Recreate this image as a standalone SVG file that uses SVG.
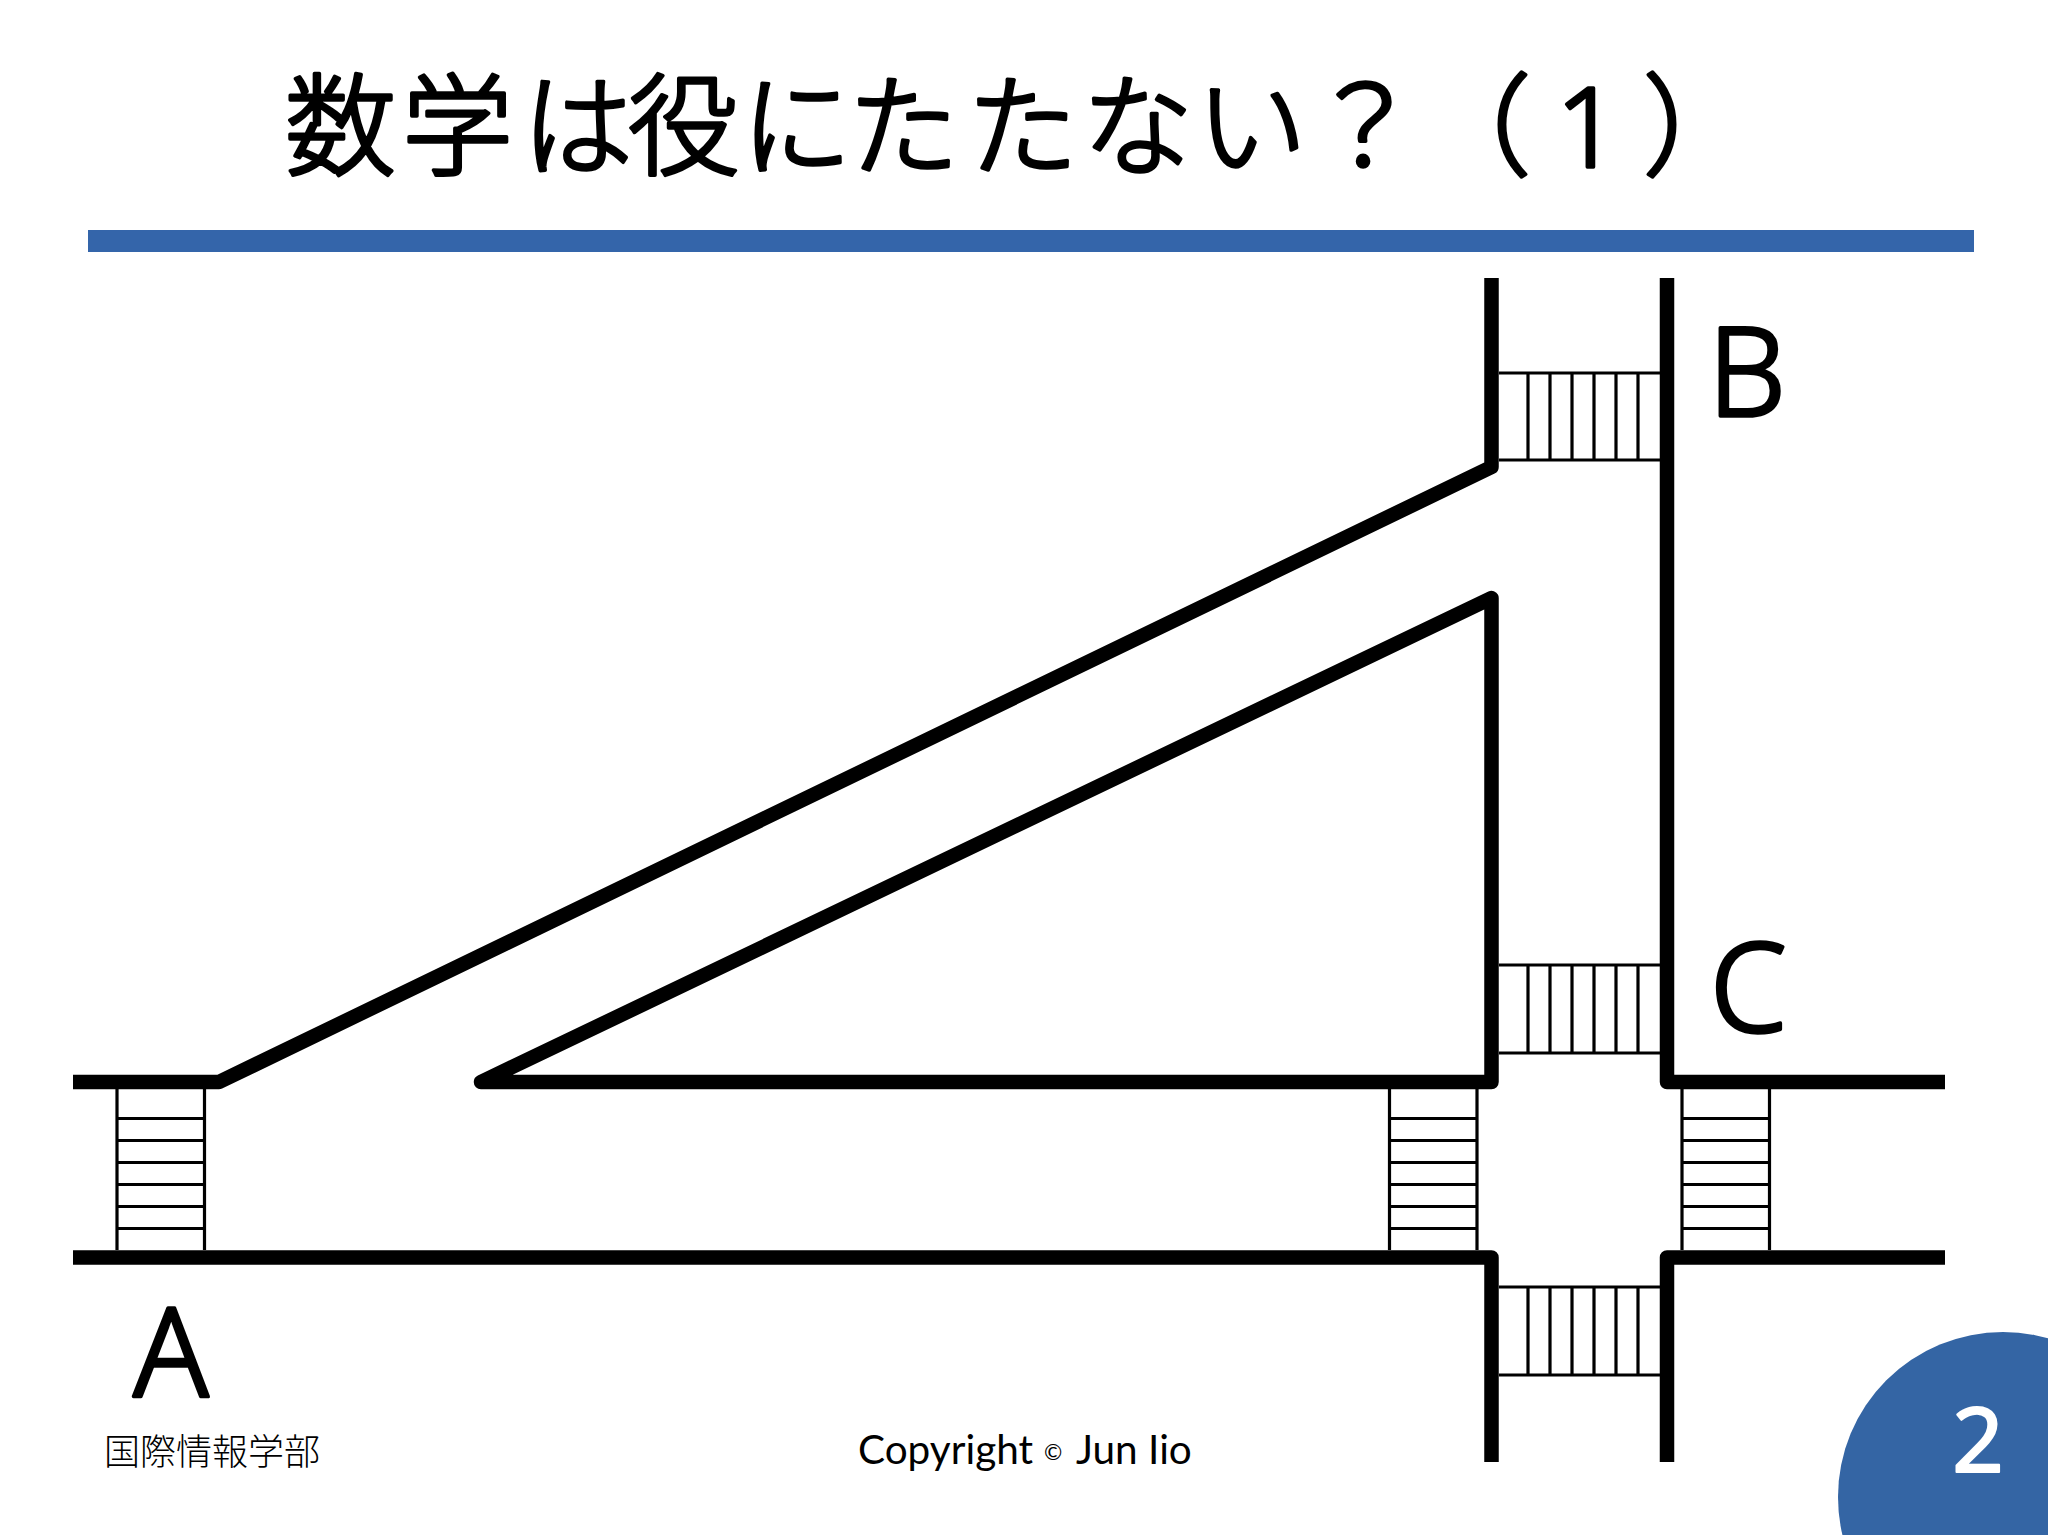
<svg xmlns="http://www.w3.org/2000/svg" width="2048" height="1535" viewBox="0 0 2048 1535">
<style>
.road{fill:none;stroke:#000;stroke-width:14.5;stroke-linejoin:round;stroke-linecap:butt}
.walk{fill:none;stroke:#000;stroke-width:3.2}
.title{font-family:"Noto Sans CJK JP","Noto Sans",sans-serif;font-size:111px;font-weight:300;fill:#000;stroke:#000;stroke-width:3.5;stroke-linejoin:round}
.one{font-family:"Noto Sans",sans-serif}
.mark{font-family:"Noto Sans","Liberation Sans",sans-serif;font-size:123px;font-weight:300;fill:#000;stroke:#000;stroke-width:3.5;stroke-linejoin:round}
.foot{font-family:"Noto Sans CJK JP","Noto Sans",sans-serif;font-size:36px;font-weight:300;fill:#000}
</style>
<rect width="2048" height="1535" fill="#fff"/>
<g id="title"><text class="title" y="167"><tspan x="285 402 522 628 741 848 967 1082 1196 1309 1420">数学は役にたたない？（</tspan><tspan class="one" x="1556">1</tspan><tspan x="1643">）</tspan></text></g>
<rect id="title-bar" x="88" y="230" width="1886" height="22" fill="#3465aa"/>
<g id="roads">
<path class="road" d="M73 1082H219L1491.500 467V278"/>
<path class="road" d="M481 1082L1491.500 598V1082Z"/>
<path class="road" d="M1667 278V1082H1945"/>
<path class="road" d="M73 1257.500H1491.500V1462"/>
<path class="road" d="M1945 1257.500H1667V1462"/>
</g>
<g id="crosswalks">
<path class="walk" d="M1499 373H1660M1499 460H1660M1528 373V460M1550 373V460M1572 373V460M1594 373V460M1616 373V460M1638 373V460"/>
<path class="walk" d="M1499 965H1660M1499 1053H1660M1528 965V1053M1550 965V1053M1572 965V1053M1594 965V1053M1616 965V1053M1638 965V1053"/>
<path class="walk" d="M1499 1287H1660M1499 1375H1660M1528 1287V1375M1550 1287V1375M1572 1287V1375M1594 1287V1375M1616 1287V1375M1638 1287V1375"/>
<path class="walk" d="M117 1089V1250M204.500 1089V1250M117 1118.500H204.500M117 1140.500H204.500M117 1162.500H204.500M117 1184.500H204.500M117 1206.500H204.500M117 1228.500H204.500"/>
<path class="walk" d="M1389.500 1089V1250M1477 1089V1250M1389.500 1118.500H1477M1389.500 1140.500H1477M1389.500 1162.500H1477M1389.500 1184.500H1477M1389.500 1206.500H1477M1389.500 1228.500H1477"/>
<path class="walk" d="M1682 1089V1250M1769.500 1089V1250M1682 1118.500H1769.500M1682 1140.500H1769.500M1682 1162.500H1769.500M1682 1184.500H1769.500M1682 1206.500H1769.500M1682 1228.500H1769.500"/>
</g>
<g id="label-a"><text class="mark" x="171" y="1396" text-anchor="middle">A</text></g>
<g id="label-b"><text class="mark" x="1708" y="416">B</text></g>
<g id="label-c"><text class="mark" x="1710" y="1032">C</text></g>
<g id="footer">
<text class="foot" x="104" y="1465">国際情報学部</text>
<text y="1464" font-family="Lato,'Noto Sans',sans-serif" font-size="40.500" fill="#000"><tspan x="858">Copyright</tspan><tspan x="1044" y="1460" font-size="22">©</tspan><tspan x="1076" y="1464">Jun Iio</tspan></text>
</g>
<g id="page-number">
<circle cx="2003" cy="1497" r="165" fill="#3465a4"/>
<text x="1978" y="1472" text-anchor="middle" font-family="'Noto Sans',sans-serif" font-size="90" fill="#fff" stroke="#fff" stroke-width="2" stroke-linejoin="round">2</text>
</g>
</svg>
